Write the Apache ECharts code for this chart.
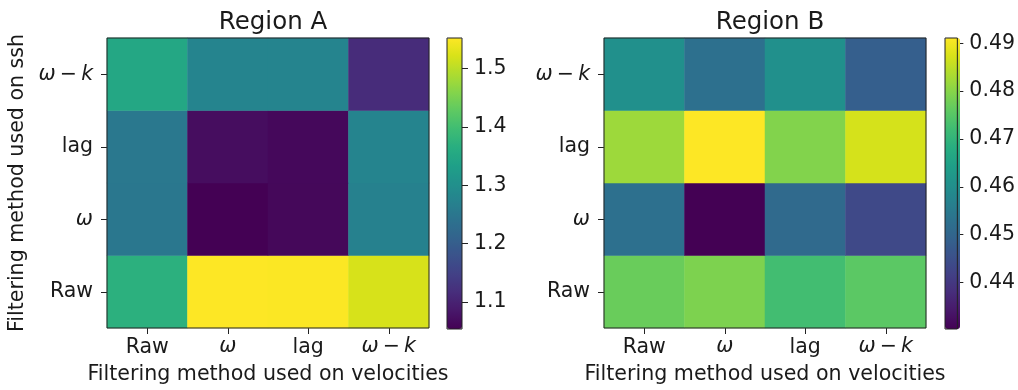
<!DOCTYPE html>
<html>
<head>
<meta charset="utf-8">
<script src="https://cdn.jsdelivr.net/npm/echarts@6/dist/echarts.min.js"></script>
<style>html,body{margin:0;padding:0;background:#fff}#c{width:1018px;height:390px}</style>
</head>
<body>
<div id="c"></div>
<script>
// ---- data ----
const xCategories = ['Raw', 'ω', 'lag', 'ω\u2009−\u2009k'];   // filtering on velocities
const yCategories = ['Raw', 'ω', 'lag', 'ω\u2009−\u2009k'];   // filtering on ssh (bottom -> top)

// Region A, rows in yCategories order, values in xCategories order
const regionA_Raw = [1.370, 1.552, 1.550, 1.520];
const regionA_w   = [1.250, 1.054, 1.063, 1.270];
const regionA_lag = [1.252, 1.070, 1.064, 1.275];
const regionA_wk  = [1.350, 1.275, 1.275, 1.115];

// Region B
const regionB_Raw = [0.4770, 0.4790, 0.4725, 0.4755];
const regionB_w   = [0.4525, 0.4303, 0.4510, 0.4435];
const regionB_lag = [0.4820, 0.4911, 0.4795, 0.4870];
const regionB_wk  = [0.4605, 0.4525, 0.4605, 0.4485];

const rangeA = [1.054, 1.552];
const rangeB = [0.4303, 0.4911];
const ticksA = [1.1, 1.2, 1.3, 1.4, 1.5];
const ticksB = [0.44, 0.45, 0.46, 0.47, 0.48, 0.49];

const viridis = ['#440154','#48186a','#472d7b','#424086','#3b528b','#33638d','#2c728e','#26828e',
  '#21918c','#1fa088','#28ae80','#3fbc73','#5ec962','#84d44b','#addc30','#d8e219','#fde725'];

// ---- build ----
function toCells(rows) {
  const out = [];
  rows.forEach((row, yi) => row.forEach((v, xi) => out.push([xi, yi, v])));
  return out;
}
const cellsA = toCells([regionA_Raw, regionA_w, regionA_lag, regionA_wk]);
const cellsB = toCells([regionB_Raw, regionB_w, regionB_lag, regionB_wk]);

const FONT = 'DejaVu Sans';
const TXT = '#1a1a1a';
const FS = 20.5;
const NFS = 20.6;
const rich = { m: { fontStyle: 'italic', fontFamily: FONT, fontSize: FS, color: TXT } };
const catFmt = v => v.indexOf('ω') >= 0 ? '{m|' + v + '}' : v;

const P = { top: 38, h: 291, w: 322 };
const grids = [
  { left: 107, top: P.top, width: P.w, height: P.h },
  { left: 604, top: P.top, width: P.w, height: P.h },
  { left: 447, top: P.top, width: 15, height: P.h },
  { left: 945, top: P.top, width: 15, height: P.h }
].map(g => Object.assign({ show: true, borderColor: '#222', borderWidth: 1, backgroundColor: 'transparent', z: 10 }, g));

function heatX(gi) {
  return {
    type: 'category', gridIndex: gi, data: xCategories,
    axisLine: { show: false },
    axisTick: { show: true, alignWithLabel: true, length: 6, lineStyle: { color: '#222' } },
    axisLabel: { interval: 0, color: TXT, fontFamily: FONT, fontSize: FS, margin: 9, formatter: catFmt, rich },
    splitArea: { show: false },
    name: 'Filtering method used on velocities', nameLocation: 'middle', nameGap: 36,
    nameTextStyle: { color: TXT, fontFamily: FONT, fontSize: NFS }
  };
}
function heatY(gi, withName) {
  const a = {
    type: 'category', gridIndex: gi, data: yCategories,
    axisLine: { show: false },
    axisTick: { show: true, alignWithLabel: true, length: 6, lineStyle: { color: '#222' } },
    axisLabel: { interval: 0, color: TXT, fontFamily: FONT, fontSize: FS, margin: 14, formatter: catFmt, rich },
    splitArea: { show: false }
  };
  if (withName) Object.assign(a, {
    name: 'Filtering method used on ssh', nameLocation: 'middle', nameGap: 79,
    nameTextStyle: { color: TXT, fontFamily: FONT, fontSize: NFS }
  });
  return a;
}
function cbX(gi) {
  return { type: 'category', gridIndex: gi, data: [''], show: false };
}
function cbY(gi, range, ticks, dec) {
  return {
    type: 'value', gridIndex: gi, position: 'right', min: range[0], max: range[1],
    axisLine: { show: false }, splitLine: { show: false },
    axisTick: { show: true, length: 6, customValues: ticks, lineStyle: { color: '#222' } },
    axisLabel: { show: true, customValues: ticks, color: TXT, fontFamily: FONT, fontSize: FS, margin: 12,
      formatter: v => Number(v).toFixed(dec) }
  };
}

const option = {
  animation: false,
  backgroundColor: '#fff',
  textStyle: { fontFamily: FONT },
  title: [
    { text: 'Region A', left: 268, top: 5, textAlign: 'center',
      textStyle: { fontFamily: FONT, fontSize: 24.5, fontWeight: 'normal', color: TXT } },
    { text: 'Region B', left: 765, top: 5, textAlign: 'center',
      textStyle: { fontFamily: FONT, fontSize: 24.5, fontWeight: 'normal', color: TXT } }
  ],
  grid: grids,
  xAxis: [heatX(0), heatX(1), cbX(2), cbX(3)],
  yAxis: [heatY(0, true), heatY(1, false), cbY(2, rangeA, ticksA, 1), cbY(3, rangeB, ticksB, 2)],
  visualMap: [
    { type: 'continuous', seriesIndex: 0, min: rangeA[0], max: rangeA[1], calculable: false, hoverLink: false,
      left: 447, top: P.top, itemWidth: 15, itemHeight: P.h, padding: 0, text: null, showLabel: false,
      inRange: { color: viridis } },
    { type: 'continuous', seriesIndex: 1, min: rangeB[0], max: rangeB[1], calculable: false, hoverLink: false,
      left: 945, top: P.top, itemWidth: 15, itemHeight: P.h, padding: 0, text: null, showLabel: false,
      inRange: { color: viridis } }
  ],
  series: [
    { type: 'heatmap', xAxisIndex: 0, yAxisIndex: 0, data: cellsA, itemStyle: { borderWidth: 0 } },
    { type: 'heatmap', xAxisIndex: 1, yAxisIndex: 1, data: cellsB, itemStyle: { borderWidth: 0 } },
    { type: 'scatter', xAxisIndex: 2, yAxisIndex: 2, data: [], silent: true },
    { type: 'scatter', xAxisIndex: 3, yAxisIndex: 3, data: [], silent: true }
  ]
};
const chart = echarts.init(document.getElementById('c'), null, { renderer: 'canvas' });
chart.setOption(option);
</script>
</body>
</html>
